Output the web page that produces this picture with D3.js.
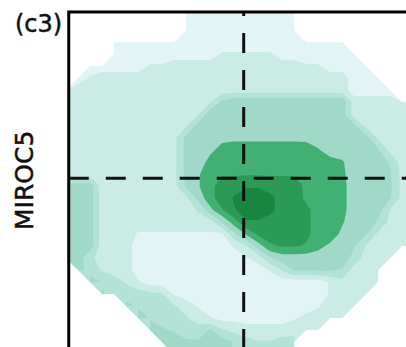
<!DOCTYPE html>
<html>
<head>
<meta charset="utf-8">
<script src="https://cdn.jsdelivr.net/npm/d3@7"></script>
<style>
  html, body { margin: 0; padding: 0; background: #ffffff; }
  svg { display: block; }
</style>
</head>
<body>
<svg id="chart" width="406" height="347"></svg>
<script>
// ---- data -------------------------------------------------------------
const _ = null; // no data (outside the model domain)

// Field level on a regular grid, one row per grid line (top to bottom).
const fieldRows = [
  [_,_,_,_,_,_,_,_,_,_,1,1,1,1,1,1,1,1,1,1,_,_,_,_,_,_,_,_,_,_],
  [_,_,_,_,_,_,_,_,_,_,1,1,1,1,1,1,1,1,1,1,_,_,_,_,_,_,_,_,_,_],
  [_,_,_,_,_,_,_,_,_,_,1,1,1,1,1,1,1,1,1,1,_,_,_,_,_,_,_,_,_,_],
  [_,_,_,_,1,1,1,1,1,1,1,1,1,1,1,1,1,1,1,1,1,1,1,1,_,_,_,_,_,_],
  [_,_,_,_,1,1,1,1,1,1,1,1,1,1.6,1.6,1.6,1.6,1.6,1,1,1,1,1,1,1,_,_,_,_,_],
  [_,_,1,1,1,1,1,1.6,1.6,2,2,2,2,2,2,2,2,2,2,2,1.6,1.6,1,1,1,1,_,_,_,_],
  [_,1,1.6,2,2,2,2,2,2,2,2,2,2,2,2,2,2,2,2,2,2,2,2,2,1,1,1,_,_,_],
  [2,2,2,2,2,2,2,2,2,2,2,2,2,2,2,2,2,2,2,2,2,2,2,2,1,1,1,1,_,_],
  [2,2,2,2,2,2,2,2,2,2,2,2,2.4,3.7,4.2,4.3,4.3,4.3,4.3,4.3,4.3,4.3,4.3,4.3,2,2,2,2,2,2],
  [2,2,2,2,2,2,2,2,2,2,2,2.3,4.2,4,4,4,4,4,4,4,4,4,4,4,2,2,2,2,2,2],
  [2,2,2,2,2,2,2,2,2,2,2.4,4,4,4,4,4,4,4,4,4,4,4,4,4,3.8,2.2,2,2,2,2],
  [2,2,2,2,2,2,2,2,2,2.2,3.8,4,4,4.3,4.3,4.3,4.3,4.3,4.3,4.3,4.3,4,4,4,4,4,2.4,2,2,2],
  [2,2,2,2,2,2,2,2,2,2.2,3.8,4,4.3,4.8,5,5,5,5,5,5,4.9,4.6,4,4,4,4,3.6,2.2,2,2],
  [2,2,2,2,2,2,2,2,2,2.2,3.8,4,4.8,5,5,5,5,5,5,5,5,5,4.9,4.6,4,4,4,3.4,2,2],
  [2,2,2,2,2,2,2,2,2,2.2,3.8,4.4,5,5.4,5.4,5.4,5.4,5.4,5.4,5.4,5.4,5,5,4.7,4,4,4,3.6,2.2,2],
  [4,4,4,2,2,2,2,2,2,2.2,3.6,4.4,5.2,6,6,6.4,6.4,6,6,6,5.3,5,5,4.8,4,4,4,3.7,2.2,2],
  [4,4,4,2,2,2,2,2,2,2,2.3,3.8,5.2,6,6.6,7,7,6.8,6,6,5.3,5,5,4.8,4,4,4,3.6,2.2,2],
  [4,4,4,2,2,2,2,2,2,2,2,2.6,4.2,5.4,6.4,7,7,6.8,6,6,5.8,5,5,4.8,4,4,3.9,2.4,2,2],
  [4,4,4,2,2,2,2,2,2,2,2,2,2,3.6,5,6.4,6.4,6,6,6,5.8,5,5,4.6,4,4,3.4,2.2,2,2],
  [4,4,4,2,2,2,1.4,1.4,1.4,1.4,1.4,1.4,1.4,1.4,3.3,4.6,5.7,6,6,6,5.8,5,5,4.3,4,3.6,2.3,2,2,2],
  [4,4,4,2,2,2,1,1,1,1,1,1,1,1,1.6,2.4,4,5.3,5.6,5.6,5.4,4.8,4.3,4,3.6,2.4,2,2,2,2],
  [4,4,2.8,2,2,2,1,1,1,1,1,1,1,1,1,1.4,2,3.4,4,4,4,4,4,4,3.2,2,2,2,_,_],
  [_,4,3,2.4,2,2,1,1,1,1,1,1,1,1,1,1,1,1.6,2.6,3.6,3.6,3.6,3.6,3.4,2,2,2,_,_,_],
  [_,_,4,3.4,3,2.4,1.6,1,1,1,1,1,1,1,1,1,1,1,1,1,1,1,1.6,2.2,2.2,2.2,2.2,_,_,_],
  [_,_,_,3.6,3.2,3,3,2.8,2.6,1.4,1,1,1,1,1,1,1,1,1,1,1,1,1.6,2.2,2.4,2.4,_,_,_,_],
  [_,_,_,_,_,3.8,3.4,3,3,2.6,2,1.4,1,1,1,1,1,1,1,1,1,1.4,2,2.4,2.4,_,_,_,_,_],
  [_,_,_,_,_,_,4,3.4,3.2,3,2.6,2,1.6,1.2,1.2,1.2,1.2,1.2,1.2,1.4,1.8,2,2.2,2.4,_,_,_,_,_,_],
  [_,_,_,_,_,_,_,4,3.6,3.4,3.2,3,3.6,2.6,2.2,1.8,1.8,1.8,1.8,2,2.2,2.4,_,_,_,_,_,_,_,_],
  [_,_,_,_,_,_,_,_,4,4,3.6,3.6,4,4,3.4,3,2.6,2.6,3,3,_,_,_,_,_,_,_,_,_,_],
  [_,_,_,_,_,_,_,_,_,4,3.6,3.6,4,4,3.4,3,2.6,2.6,3,3,_,_,_,_,_,_,_,_,_,_]
];

// Map coordinates (grid units, pole at 0,0) of the first grid sample.
const gridX0 = -14.8;
const gridY0 = -14.35;

// Filled contour levels and their colours.
const thresholds = [0.5, 1.5, 2.5, 3.5, 4.5, 5.5, 6.5];
const bandColors = ["#e3f4f6", "#cbece5", "#b3e2d6", "#a0d9c8", "#42b073", "#2b9a56", "#1a8540"];

// Panel extent in map coordinates.
const frameX = [-14.58, 14.6];
const frameY = [-13.86, 14.6];

// Reference meridians through the pole.
const crossX = [0];
const crossY = [0];

const panelLabel = "(c3)";
const rowLabel = "MIROC5";

// ---- drawing ----------------------------------------------------------
const svg = d3.select("#chart");
svg.append("rect").attr("width", 406).attr("height", 347).attr("fill", "#ffffff");

const xMap = d3.scaleLinear().domain([-15, 15]).range([63.7, 423.7]);
const yMap = d3.scaleLinear().domain([-15, 15]).range([-1.7, 358.3]);

const fx0 = xMap(frameX[0]), fx1 = xMap(frameX[1]);
const fy0 = yMap(frameY[0]), fy1 = yMap(frameY[1]);

svg.append("clipPath").attr("id", "panel-clip")
  .append("rect")
  .attr("x", fx0).attr("y", fy0)
  .attr("width", fx1 - fx0).attr("height", fy1 - fy0);

const nCols = fieldRows[0].length;
const nRows = fieldRows.length;
const NO_DATA = -1000; // far below every level so no band reaches past the domain edge
const values = fieldRows.flat().map(v => (v == null ? NO_DATA : v));

const bands = d3.contours()
  .size([nCols, nRows])
  .thresholds(thresholds)(values);

// contour coordinates -> map coordinates -> pixels
const toPixels = d3.geoTransform({
  point(cx, cy) {
    this.stream.point(xMap(gridX0 + cx - 0.5), yMap(gridY0 + cy - 0.5));
  }
});
const path = d3.geoPath(toPixels);

const field = svg.append("g").attr("clip-path", "url(#panel-clip)");
field.selectAll("path")
  .data(bands)
  .join("path")
  .attr("d", path)
  .attr("fill", (d, i) => bandColors[i])
  .attr("stroke", "none");

// dashed cross through the pole
const dash = "20 17";
const lines = svg.append("g").attr("clip-path", "url(#panel-clip)")
  .attr("stroke", "#111111").attr("stroke-width", 3).attr("fill", "none");

lines.selectAll("line.v")
  .data(crossX)
  .join("line")
  .attr("class", "v")
  .attr("x1", d => xMap(d)).attr("x2", d => xMap(d))
  .attr("y1", fy0).attr("y2", fy1)
  .attr("stroke-dasharray", dash)
  .attr("stroke-dashoffset", 16);

lines.selectAll("line.h")
  .data(crossY)
  .join("line")
  .attr("class", "h")
  .attr("y1", d => yMap(d)).attr("y2", d => yMap(d))
  .attr("x1", fx0).attr("x2", fx1)
  .attr("stroke-dasharray", dash);

// panel frame
svg.append("rect")
  .attr("x", fx0).attr("y", fy0)
  .attr("width", fx1 - fx0).attr("height", fy1 - fy0)
  .attr("fill", "none")
  .attr("stroke", "#000000")
  .attr("stroke-width", 3);

// labels
svg.append("text")
  .attr("x", 15).attr("y", 32)
  .attr("font-family", "DejaVu Sans, sans-serif")
  .attr("font-size", 24)
  .attr("fill", "#111111")
  .attr("stroke", "#111111")
  .attr("stroke-width", 0.5)
  .text(panelLabel);

svg.append("text")
  .attr("transform", `translate(33,${(yMap(0) + 2).toFixed(1)}) rotate(-90)`)
  .attr("text-anchor", "middle")
  .attr("font-family", "DejaVu Sans, sans-serif")
  .attr("font-size", 25)
  .attr("fill", "#111111")
  .attr("stroke", "#111111")
  .attr("stroke-width", 0.5)
  .text(rowLabel);
</script>
</body>
</html>
